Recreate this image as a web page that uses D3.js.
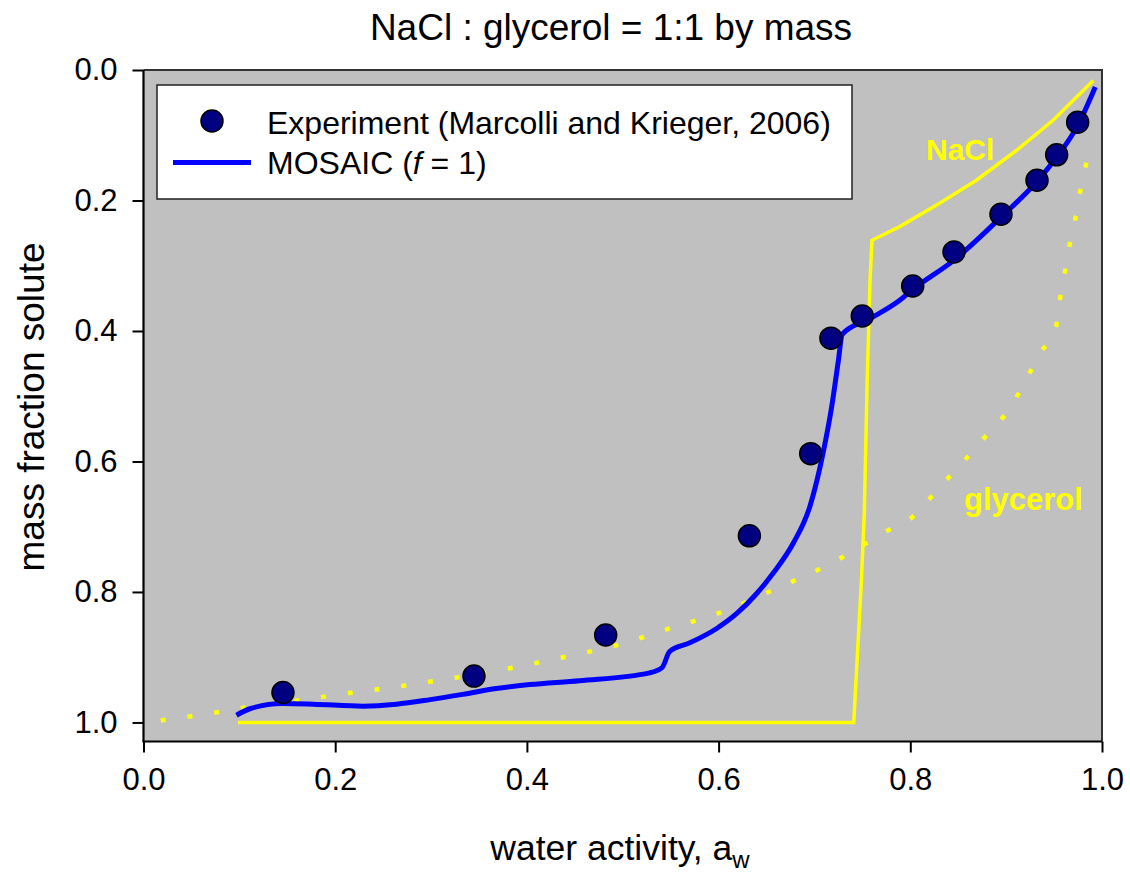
<!DOCTYPE html>
<html>
<head>
<meta charset="utf-8">
<script src="https://cdn.jsdelivr.net/npm/d3@7"></script>
<style>
  body { margin: 0; background: #fff; }
  svg text { font-family: "Liberation Sans", Arial, sans-serif; }
</style>
</head>
<body>
<svg id="chart" width="1130" height="873"></svg>
<script>
// Marcolli and Krieger (2006) experiment
var expAw   = [0.1455, 0.3448, 0.4822, 0.6321, 0.6961, 0.7172, 0.7499, 0.8025, 0.8456, 0.8946, 0.9322, 0.9527, 0.9746];
var expMass = [0.954, 0.929, 0.866, 0.714, 0.588, 0.411, 0.377, 0.331, 0.279, 0.221, 0.169, 0.130, 0.080];

// MOSAIC (f = 1)
var mosaicAw   = [0.097, 0.111, 0.145, 0.177, 0.229, 0.264, 0.299, 0.333, 0.368, 0.403, 0.455, 0.528, 0.541, 0.549, 0.570, 0.598, 0.619, 0.640, 0.657, 0.678, 0.695, 0.709, 0.718, 0.725, 0.729, 0.758, 0.789, 0.802, 0.846, 0.895, 0.932, 0.953, 0.975, 0.993];
var mosaicMass = [0.989, 0.979, 0.971, 0.972, 0.975, 0.972, 0.965, 0.957, 0.948, 0.942, 0.936, 0.924, 0.916, 0.891, 0.878, 0.856, 0.833, 0.802, 0.771, 0.725, 0.670, 0.587, 0.516, 0.445, 0.405, 0.381, 0.353, 0.337, 0.291, 0.225, 0.171, 0.133, 0.084, 0.026];

// pure NaCl
var naclAw   = [0.0986, 0.741, 0.749, 0.752, 0.755, 0.758, 0.760, 0.789, 0.831, 0.869, 0.911, 0.949, 0.991];
var naclMass = [1.0, 1.0, 0.782, 0.679, 0.475, 0.322, 0.261, 0.240, 0.204, 0.169, 0.123, 0.077, 0.016];

// pure glycerol
var glycAw   = [0.018, 0.074, 0.102, 0.158, 0.214, 0.270, 0.327, 0.382, 0.438, 0.495, 0.551, 0.601, 0.663, 0.719, 0.775, 0.804, 0.829, 0.855, 0.880, 0.904, 0.920, 0.935, 0.952, 0.956, 0.961, 0.966, 0.972, 0.977, 0.983, 0.986];
var glycMass = [0.997, 0.985, 0.978, 0.967, 0.955, 0.944, 0.931, 0.917, 0.900, 0.881, 0.855, 0.832, 0.793, 0.755, 0.707, 0.683, 0.642, 0.601, 0.559, 0.518, 0.477, 0.435, 0.394, 0.353, 0.312, 0.270, 0.229, 0.188, 0.147, 0.125];

var xTicks = [0, 0.2, 0.4, 0.6, 0.8, 1.0];
var yTicks = [0, 0.2, 0.4, 0.6, 0.8, 1.0];

var svg = d3.select("#chart");

var pLeft = 143.5, pRight = 1102, pTop = 70, pBottom = 741.5;

var x = d3.scaleLinear().domain([0, 1]).range([pLeft, pRight]);
var y = d3.scaleLinear().domain([0, 1.0292]).range([pTop, pBottom]);

svg.append("defs").append("clipPath").attr("id", "clip")
  .append("rect")
  .attr("x", pLeft).attr("y", pTop)
  .attr("width", pRight - pLeft).attr("height", pBottom - pTop);

// plot background
svg.append("rect")
  .attr("x", pLeft).attr("y", pTop)
  .attr("width", pRight - pLeft).attr("height", pBottom - pTop)
  .attr("fill", "#c0c0c0");

var plot = svg.append("g").attr("clip-path", "url(#clip)");

function pairs(xs, ys) { return xs.map((v, i) => [v, ys[i]]); }

var line = d3.line()
  .x((d) => x(d[0]))
  .y((d) => y(d[1]));

var smooth = d3.line()
  .x((d) => x(d[0]))
  .y((d) => y(d[1]))
  .curve(d3.curveMonotoneX);

// glycerol - dotted yellow
plot.append("path")
  .attr("d", smooth(pairs(glycAw, glycMass)))
  .attr("fill", "none")
  .attr("stroke", "#ffff00")
  .attr("stroke-width", 4.5)
  .attr("stroke-dasharray", "5,22");

// NaCl - solid yellow
plot.append("path")
  .attr("d", line(pairs(naclAw, naclMass)))
  .attr("fill", "none")
  .attr("stroke", "#ffff00")
  .attr("stroke-width", 3.5)
  .attr("stroke-linejoin", "miter");

// MOSAIC
plot.append("path")
  .attr("d", smooth(pairs(mosaicAw, mosaicMass)))
  .attr("fill", "none")
  .attr("stroke", "#0000ff")
  .attr("stroke-width", 5)
  .attr("stroke-linejoin", "round");

// experiment points
plot.selectAll("circle.exp")
  .data(pairs(expAw, expMass))
  .join("circle")
  .attr("class", "exp")
  .attr("cx", (d) => x(d[0]))
  .attr("cy", (d) => y(d[1]))
  .attr("r", 11)
  .attr("fill", "#000080")
  .attr("stroke", "#000")
  .attr("stroke-width", 1.5);

// frame (top & right)
svg.append("path")
  .attr("d", `M${pLeft},${pTop}H${pRight}V${pBottom}`)
  .attr("fill", "none")
  .attr("stroke", "#333")
  .attr("stroke-width", 2);

// axes
var xAxis = d3.axisBottom(x)
  .tickValues(xTicks)
  .tickFormat(d3.format(".1f"))
  .tickSize(11)
  .tickSizeOuter(0)
  .tickPadding(15);

var yAxis = d3.axisLeft(y)
  .tickValues(yTicks)
  .tickFormat(d3.format(".1f"))
  .tickSize(11)
  .tickSizeOuter(0)
  .tickPadding(15);

var gx = svg.append("g")
  .attr("transform", `translate(0,${pBottom})`)
  .call(xAxis);
var gy = svg.append("g")
  .attr("transform", `translate(${pLeft},0)`)
  .call(yAxis);

[gx, gy].forEach((g) => {
  g.attr("font-size", 31).attr("font-family", "'Liberation Sans', Arial, sans-serif");
  g.select(".domain").attr("stroke", "#000").attr("stroke-width", 2.2);
  g.selectAll(".tick line").attr("stroke", "#000").attr("stroke-width", 2);
  g.selectAll(".tick text").attr("fill", "#000");
});
gy.select(".domain").attr("d", `M0,${pTop}V${pBottom}`);
gx.select(".domain").attr("d", `M${pLeft - 1},0H${pRight}`);

// legend
var legend = svg.append("g");
legend.append("rect")
  .attr("x", 157).attr("y", 85)
  .attr("width", 695).attr("height", 114)
  .attr("fill", "#fff")
  .attr("stroke", "#222")
  .attr("stroke-width", 1.5);
legend.append("circle")
  .attr("cx", 212).attr("cy", 121).attr("r", 11)
  .attr("fill", "#000080").attr("stroke", "#000").attr("stroke-width", 1.5);
legend.append("line")
  .attr("x1", 173).attr("x2", 251)
  .attr("y1", 162.5).attr("y2", 162.5)
  .attr("stroke", "#0000ff").attr("stroke-width", 5);
legend.append("text")
  .attr("x", 267).attr("y", 133.5)
  .style("font-size", "32px")
  .text("Experiment (Marcolli and Krieger, 2006)");
var mt = legend.append("text")
  .attr("x", 267).attr("y", 173.5)
  .style("font-size", "32px");
mt.append("tspan").text("MOSAIC (");
mt.append("tspan").style("font-style", "italic").text("f");
mt.append("tspan").text(" = 1)");

// curve labels
svg.append("text")
  .attr("x", 926).attr("y", 159.5)
  .attr("fill", "#ffff00")
  .style("font-size", "30px")
  .style("font-weight", "bold")
  .text("NaCl");
svg.append("text")
  .attr("x", 964).attr("y", 509.5)
  .attr("fill", "#ffff00")
  .style("font-size", "31px")
  .style("font-weight", "bold")
  .text("glycerol");

// titles
svg.append("text")
  .attr("x", 611).attr("y", 40)
  .attr("text-anchor", "middle")
  .style("font-size", "37px")
  .text("NaCl : glycerol = 1:1 by mass");

var xt = svg.append("text")
  .attr("x", 620).attr("y", 860)
  .attr("text-anchor", "middle")
  .style("font-size", "35.5px");
xt.append("tspan").text("water activity, a");
xt.append("tspan").attr("dy", 8).style("font-size", "24px").text("w");

svg.append("text")
  .attr("transform", "translate(44,407) rotate(-90)")
  .attr("text-anchor", "middle")
  .style("font-size", "37px")
  .text("mass fraction solute");
</script>
</body>
</html>
